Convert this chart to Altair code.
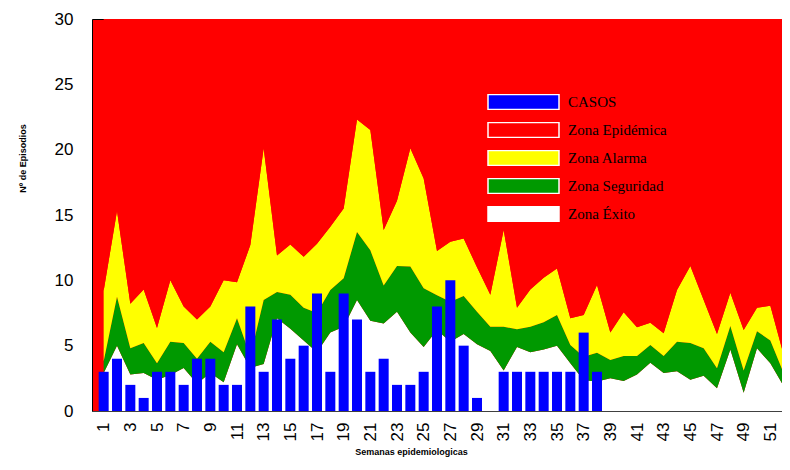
import altair as alt
import pandas as pd

# ---- data ----
weeks = list(range(1, 53))
cases = [3, 4, 2, 1, 3, 3, 2, 4, 4, 2, 2, 8, 3, 7, 4, 5, 9, 3, 9, 7,
         3, 4, 2, 2, 3, 8, 10, 5, 1, 0, 3, 3, 3, 3, 3, 3, 6, 3]
lower = [2.9, 5.0, 2.8, 2.9, 2.4, 2.75, 3.3, 2.1, 2.9, 2.2, 5.1, 3.3, 3.6, 7.1, 6.3,
         5.4, 4.5, 6.0, 6.45, 8.5, 6.9, 6.7, 7.6, 6.0, 4.9, 6.2, 5.3, 5.9, 5.1, 4.6,
         3.1, 4.9, 4.5, 4.7, 5.0, 3.65, 2.35, 2.25, 2.5, 2.3, 2.8, 3.7, 2.9, 3.05,
         2.4, 2.7, 1.75, 4.7, 1.4, 4.8, 3.65, 1.9]
middle = [3.8, 8.75, 4.8, 5.2, 3.65, 5.3, 5.2, 4.0, 5.3, 4.5, 7.1, 4.2, 8.5, 9.1, 8.9,
          7.9, 7.5, 9.26, 10.15, 13.7, 12.3, 9.6, 11.1, 11.05, 9.4, 8.85, 8.36, 8.8,
          7.6, 6.45, 6.45, 6.25, 6.45, 6.8, 7.35, 5.05, 4.15, 4.45, 3.9, 4.2, 4.2,
          5.05, 4.2, 5.3, 5.2, 4.8, 3.27, 6.5, 3.1, 6.1, 5.4, 2.9]
upper = [9.2, 15.3, 8.2, 9.3, 6.35, 10.0, 8.0, 7.0, 8.0, 10.0, 9.85, 12.7, 20.1, 11.9,
         12.75, 11.8, 12.8, 14.1, 15.5, 22.3, 21.5, 13.85, 16.1, 20.1, 17.8, 12.25,
         12.95, 13.2, 11.0, 8.9, 13.85, 7.9, 9.3, 10.2, 10.9, 7.1, 7.35, 9.65, 6.0,
         7.55, 6.4, 6.75, 5.95, 9.26, 11.1, 8.5, 5.9, 9.05, 6.2, 7.9, 8.05, 4.3]
y_max = 30
series = ["CASOS", "Zona Epidémica", "Zona Alarma", "Zona Seguridad", "Zona Éxito"]
series_colors = ["#0000FF", "#FF0000", "#FFFF00", "#009900", "#FFFFFF"]
y_ticks = [0, 5, 10, 15, 20, 25, 30]
x_ticks = list(range(1, 52, 2))

rows = []
for i, w in enumerate(weeks):
    rows.append({"semana": w, "serie": "Zona Éxito", "y0": 0, "y1": lower[i]})
    rows.append({"semana": w, "serie": "Zona Seguridad", "y0": lower[i], "y1": middle[i]})
    rows.append({"semana": w, "serie": "Zona Alarma", "y0": middle[i], "y1": upper[i]})
    rows.append({"semana": w, "serie": "Zona Epidémica", "y0": upper[i], "y1": y_max})
zones = pd.DataFrame(rows)
casos = pd.DataFrame({"semana": weeks[:len(cases)], "valor": cases, "serie": "CASOS"})

color = alt.Color(
    "serie:N",
    scale=alt.Scale(domain=series, range=series_colors),
    legend=alt.Legend(
        title=None, orient="none", legendX=395, legendY=75,
        symbolType="M-1,-0.21H1V0.21H-1Z", symbolSize=5041,
        symbolStrokeColor="white", symbolStrokeWidth=1.5, symbolOpacity=1,
        clipHeight=16, rowPadding=12, labelOffset=8,
        labelFont="Liberation Serif", labelFontSize=15, labelColor="black",
        labelLimit=300, padding=0,
    ),
)

# the reference plot runs past the right edge of the picture
x_scale = alt.Scale(domain=[0.5, 51.5], nice=False, zero=False)
y_scale = alt.Scale(domain=[0, y_max], nice=False)

x_axis = alt.Axis(
    values=x_ticks, tickCount=60, labelAngle=-90, ticks=False, domain=True,
    domainColor="#404040", grid=False, labelFont="Liberation Sans", labelFontSize=17,
    labelColor="black", labelPadding=11, labelOverlap=False, labelBound=False,
    labelFlush=False,
    title="Semanas epidemiologicas", titleFont="Liberation Sans", titleFontSize=9,
    titleFontWeight="bold", titleColor="black", titleX=319, titleY=36,
)
y_axis = alt.Axis(
    values=y_ticks, tickCount=10, ticks=False, domain=False, grid=False,
    labelFont="Liberation Sans", labelFontSize=17, labelColor="black", labelPadding=19,
    title="Nº de Episodios", titleFont="Liberation Sans", titleFontSize=9,
    titleFontWeight="bold", titleColor="black", titleX=-65, titleY=139,
)

areas = alt.Chart(zones).mark_area(interpolate="linear", opacity=1, clip=True).encode(
    x=alt.X("semana:Q", scale=x_scale, axis=x_axis),
    y=alt.Y("y0:Q", scale=y_scale, axis=y_axis),
    y2="y1:Q",
    color=color,
)

bars = alt.Chart(casos).mark_bar(width=10, opacity=1, clip=True).encode(
    x=alt.X("semana:Q", scale=x_scale),
    y=alt.Y("valor:Q", scale=y_scale),
    color=color,
)

chart = alt.layer(areas, bars).properties(
    width=690, height=392,
    autosize=alt.AutoSizeParams(type="none"),
    padding={"left": 84, "top": 11, "right": 0, "bottom": 46},
).configure_view(fill="#FF0000", stroke="black", strokeWidth=1)

chart.save("out.html", embed_options={"renderer": "svg", "actions": False})
